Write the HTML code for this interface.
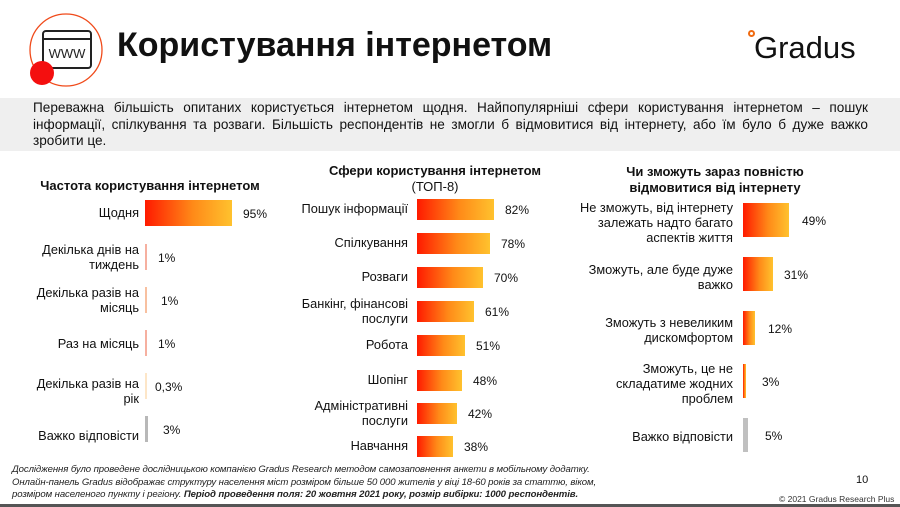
<!DOCTYPE html>
<html><head><meta charset="utf-8"><style>
body{margin:0;width:900px;height:507px;background:#fff;position:relative;overflow:hidden;font-family:"Liberation Sans","DejaVu Sans",sans-serif;color:#111}
.a{position:absolute}
.lbl{position:absolute;text-align:right;font-size:12.8px;line-height:15px;color:#111}
.val{position:absolute;font-size:12px;color:#111}
.bar{position:absolute;background:linear-gradient(90deg,#ff1a00,#ff8a18 55%,#ffc22e)}
.h{position:absolute;font-weight:bold;font-size:13px;text-align:center;line-height:16px}
</style></head><body>
<svg class="a" style="left:0;top:0" width="120" height="100">
<circle cx="66" cy="50" r="36" fill="none" stroke="#f04a1a" stroke-width="1.3"/>
<rect x="43" y="31" width="48" height="37" rx="3" fill="#fff" stroke="#222" stroke-width="2"/>
<line x1="43" y1="39" x2="91" y2="39" stroke="#222" stroke-width="2"/>
<text x="67" y="58" font-family="Liberation Sans" font-size="13" text-anchor="middle" fill="#222">WWW</text>
<circle cx="42" cy="73" r="12" fill="#f40f0f"/>
</svg>
<div class="a" style="left:117px;top:26px;font-size:34px;font-weight:bold">Користування інтернетом</div>
<div class="a" style="left:748px;top:30px;width:7px;height:7px;border-radius:50%;border:2px solid #f06a10;box-sizing:border-box"></div>
<div class="a" style="left:754px;top:30px;font-size:31px;color:#111">Gradus</div>
<div class="a" style="left:0;top:98px;width:900px;height:53px;background:#efefef"></div>
<div class="a" style="left:33px;top:100px;width:835px;font-size:13.6px;line-height:16.5px;text-align:justify">Переважна більшість опитаних користується інтернетом щодня. Найпопулярніші сфери користування інтернетом – пошук інформації, спілкування та розваги. Більшість респондентів не змогли б відмовитися від інтернету, або їм було б дуже важко зробити це.</div>

<div class="h" style="left:20px;top:178px;width:260px">Частота користування інтернетом</div>
<div class="lbl" style="left:0;width:139px;top:205px">Щодня</div>
<div class="bar" style="left:145px;top:200px;width:87px;height:26px"></div><div class="val" style="left:243px;top:207px">95%</div>
<div class="lbl" style="left:0;width:139px;top:242px">Декілька днів на<br>тиждень</div>
<div class="bar" style="left:145px;top:244px;width:2px;height:26px;background:#f6b0a0"></div><div class="val" style="left:158px;top:251px">1%</div>
<div class="lbl" style="left:0;width:139px;top:285px">Декілька разів на<br>місяць</div>
<div class="bar" style="left:145px;top:287px;width:2px;height:26px;background:#f8c0a0"></div><div class="val" style="left:161px;top:294px">1%</div>
<div class="lbl" style="left:0;width:139px;top:336px">Раз на місяць</div>
<div class="bar" style="left:145px;top:330px;width:2px;height:26px;background:#f6b0a0"></div><div class="val" style="left:158px;top:337px">1%</div>
<div class="lbl" style="left:0;width:139px;top:376px">Декілька разів на<br>рік</div>
<div class="bar" style="left:145px;top:373px;width:2px;height:26px;background:#fde6c8"></div><div class="val" style="left:155px;top:380px">0,3%</div>
<div class="lbl" style="left:0;width:139px;top:428px">Важко відповісти</div>
<div class="bar" style="left:145px;top:416px;width:3px;height:26px;background:#b8b8b8"></div><div class="val" style="left:163px;top:423px">3%</div>

<div class="h" style="left:300px;top:163px;width:270px">Сфери користування інтернетом<br><span style="font-weight:normal">(ТОП-8)</span></div>
<div class="lbl" style="left:250px;width:158px;top:201px">Пошук інформації</div>
<div class="bar" style="left:417px;top:199px;width:77px;height:21px"></div><div class="val" style="left:505px;top:203px">82%</div>
<div class="lbl" style="left:250px;width:158px;top:235px">Спілкування</div>
<div class="bar" style="left:417px;top:233px;width:73px;height:21px"></div><div class="val" style="left:501px;top:237px">78%</div>
<div class="lbl" style="left:250px;width:158px;top:269px">Розваги</div>
<div class="bar" style="left:417px;top:267px;width:66px;height:21px"></div><div class="val" style="left:494px;top:271px">70%</div>
<div class="lbl" style="left:250px;width:158px;top:296px">Банкінг, фінансові<br>послуги</div>
<div class="bar" style="left:417px;top:301px;width:57px;height:21px"></div><div class="val" style="left:485px;top:305px">61%</div>
<div class="lbl" style="left:250px;width:158px;top:337px">Робота</div>
<div class="bar" style="left:417px;top:335px;width:48px;height:21px"></div><div class="val" style="left:476px;top:339px">51%</div>
<div class="lbl" style="left:250px;width:158px;top:372px">Шопінг</div>
<div class="bar" style="left:417px;top:370px;width:45px;height:21px"></div><div class="val" style="left:473px;top:374px">48%</div>
<div class="lbl" style="left:250px;width:158px;top:398px">Адміністративні<br>послуги</div>
<div class="bar" style="left:417px;top:403px;width:40px;height:21px"></div><div class="val" style="left:468px;top:407px">42%</div>
<div class="lbl" style="left:250px;width:158px;top:438px">Навчання</div>
<div class="bar" style="left:417px;top:436px;width:36px;height:21px"></div><div class="val" style="left:464px;top:440px">38%</div>

<div class="h" style="left:590px;top:164px;width:250px">Чи зможуть зараз повністю<br>відмовитися від інтернету</div>
<div class="lbl" style="left:560px;width:173px;top:200px">Не зможуть, від інтернету<br>залежать надто багато<br>аспектів життя</div>
<div class="bar" style="left:743px;top:203px;width:46px;height:34px"></div><div class="val" style="left:802px;top:214px">49%</div>
<div class="lbl" style="left:560px;width:173px;top:262px">Зможуть, але буде дуже<br>важко</div>
<div class="bar" style="left:743px;top:257px;width:30px;height:34px"></div><div class="val" style="left:784px;top:268px">31%</div>
<div class="lbl" style="left:560px;width:173px;top:315px">Зможуть з невеликим<br>дискомфортом</div>
<div class="bar" style="left:743px;top:311px;width:12px;height:34px"></div><div class="val" style="left:768px;top:322px">12%</div>
<div class="lbl" style="left:560px;width:173px;top:361px">Зможуть, це не<br>складатиме жодних<br>проблем</div>
<div class="bar" style="left:743px;top:364px;width:3px;height:34px"></div><div class="val" style="left:762px;top:375px">3%</div>
<div class="lbl" style="left:560px;width:173px;top:429px">Важко відповісти</div>
<div class="bar" style="left:743px;top:418px;width:5px;height:34px;background:#c0c0c0"></div><div class="val" style="left:765px;top:429px">5%</div>

<div class="a" style="left:12px;top:464px;font-size:9.6px;line-height:12.5px;font-style:italic;color:#222;letter-spacing:-0.1px">Дослідження було проведене дослідницькою компанією Gradus Research методом самозаповнення анкети в мобільному додатку.<br>Онлайн-панель Gradus відображає структуру населення міст розміром більше 50 000 жителів у віці 18-60 років за статтю, віком,<br>розміром населеного пункту і регіону. <b>Період проведення поля: 20 жовтня 2021 року, розмір вибірки: 1000 респондентів.</b></div>
<div class="a" style="left:856px;top:474px;font-size:11px">10</div>
<div class="a" style="left:779px;top:494px;font-size:8.5px;color:#333">© 2021 Gradus Research Plus</div>
<div class="a" style="left:0;top:504px;width:900px;height:3px;background:#555"></div>
</body></html>
